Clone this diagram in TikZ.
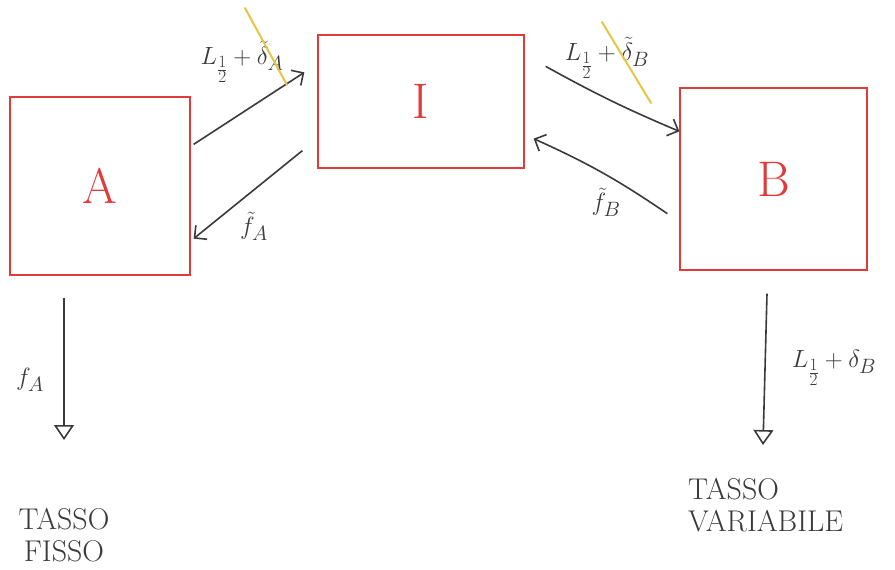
\documentclass[tikz,border=0pt]{standalone}
\usepackage{amsmath}
\usetikzlibrary{arrows.meta}
\definecolor{boxred}{HTML}{E03A3A}
\definecolor{ink}{HTML}{3A3A3A}
\definecolor{strikey}{HTML}{E6C445}
\tikzstyle{box} = [rectangle, draw=boxred, line width=1.3pt, inner sep=0pt, text=boxred, font=\fontsize{50}{50}\selectfont]
\tikzstyle{arrow} = [-{Straight Barb[length=9pt,width=18pt]}, draw=ink, line width=1.6pt]
\tikzstyle{outarrow} = [-{Triangle[open,length=15pt,width=20pt]}, draw=ink, line width=1.6pt]
\tikzstyle{lbl} = [text=ink, inner sep=0pt, font=\fontsize{32}{34}\selectfont]
\tikzstyle{note} = [text=ink, inner sep=0pt, font=\fontsize{30}{32}\selectfont]
\tikzstyle{strike} = [draw=strikey, line width=2pt, line cap=round]

\begin{document}
\begin{tikzpicture}[x=1pt, y=-1pt]
\useasboundingbox (0,0) rectangle (895,570);
%scatole
\node[box, minimum width=180pt, minimum height=178pt](A) at (100,186){A};
\node[box, minimum width=206pt, minimum height=133pt](I) at (421,101.5){I};
\node[box, minimum width=187pt, minimum height=182pt](B) at (773.5,179){B};
%estremi liberi
\coordinate (endA) at (64,440);
\coordinate (endB) at (763,445);
%frecce
\draw [arrow] ([shift={(3,48)}]A.north east) -- ([shift={(-13,38)}]I.north west);
\draw [arrow] ([shift={(-15,-18)}]I.south west) -- ([shift={(3,-37)}]A.south east);
\draw [arrow] ([shift={(21,32)}]I.north east) to[bend right=3] ([shift={(0,44)}]B.north west);
\draw [arrow] ([shift={(-12,-57)}]B.south west) to[bend right=5] ([shift={(9,-30)}]I.south east);
\draw [outarrow] ([shift={(-36,22)}]A.south) -- (endA);
\draw [outarrow] ([shift={(-6.5,23)}]B.south) -- (endB);
%etichette
\node[lbl](lAI) at (242,62){$L_{\frac12}+\tilde\delta_A$};
\node[lbl](lIA) at (254,226){$\tilde f_A$};
\node[lbl](lIB) at (607,58){$L_{\frac12}+\tilde\delta_B$};
\node[lbl](lBI) at (606,202){$\tilde f_B$};
\node[lbl](lA) at (30,380){$f_A$};
\node[lbl](lB) at (834,368){$L_{\frac12}+\delta_B$};
\node[note, align=center](tA) at (64,535){TASSO\\FISSO};
\node[note, align=left, anchor=west](tB) at (688,505){TASSO\\VARIABILE};
%cancellature
\draw [strike] (245,8) -- (287,85);
\draw [strike] (602,22) -- (651,103);
\end{tikzpicture}
\end{document}
